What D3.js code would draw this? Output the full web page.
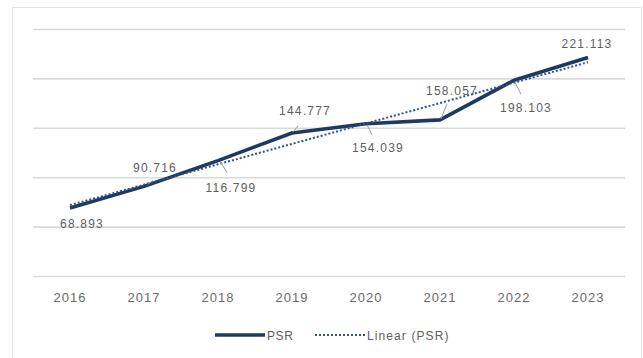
<!DOCTYPE html>
<html>
<head>
<meta charset="utf-8">
<script src="https://cdn.jsdelivr.net/npm/d3@7"></script>
<style>
  html, body { margin: 0; padding: 0; background: #fff; }
  svg { display: block; }
  text { font-family: "Liberation Sans", Arial, sans-serif; }
</style>
</head>
<body>
<svg id="chart" width="643" height="358"></svg>
<script>
// ---- data ----
const years = ["2016", "2017", "2018", "2019", "2020", "2021", "2022", "2023"];
const psr = [68.893, 90.716, 116.799, 144.777, 154.039, 158.057, 198.103, 221.113];
const labels = ["68.893", "90.716", "116.799", "144.777", "154.039", "158.057", "198.103", "221.113"];
const gridTicks = [0, 50, 100, 150, 200, 250];
const seriesNames = ["PSR", "Linear (PSR)"];

// label placement (offset from point: dx, baseline dy) and leader lines
const labelOffsets = [[12, 20], [11, -14], [13, 31], [13, -18], [12, 28], [12, -25], [12, 32], [-1, -10]];
const leaders = [null, [[4, -2], [9, -6]], [[3, 2], [9, 12]], [[1, -1], [6, -7]], [[1, 1], [6, 11]], [[1, -1], [7, -16]], [[1, 2], [7, 14]], null];

const svg = d3.select("#chart");
const pLeft = 33, pRight = 625, pTop = 29, pBottom = 276;

// outer border
svg.append("rect").attr("x", 12.5).attr("y", 7.5).attr("width", 629).attr("height", 352)
  .attr("fill", "#fff").attr("stroke", "#e4e4e4").attr("stroke-width", 1);

const x = d3.scaleBand().domain(years).range([pLeft, pRight]).padding(0);
const y = d3.scaleLinear().domain([0, 250]).range([pBottom, pTop]);
const cx = d => x(d) + x.bandwidth() / 2;

// gridlines
const grid = svg.append("g").attr("transform", `translate(${pLeft},0)`)
  .call(d3.axisLeft(y).tickValues(gridTicks).tickSize(-(pRight - pLeft)).tickFormat(""));
grid.select(".domain").remove();
grid.selectAll(".tick line").attr("stroke", "#d9d9d9").attr("stroke-width", 1.6);

// x axis labels
const xa = svg.append("g").attr("transform", `translate(0,${pBottom})`)
  .call(d3.axisBottom(x).tickSize(0).tickPadding(17));
xa.select(".domain").remove();
xa.selectAll("text").attr("font-size", 13).attr("fill", "#6a6a6a")
  .attr("letter-spacing", 1).attr("font-family", "Liberation Sans, Arial, sans-serif");

// linear trend (least squares)
const n = psr.length;
const xs = d3.range(1, n + 1);
const mx = d3.mean(xs), my = d3.mean(psr);
const slope = d3.sum(xs.map((xi, i) => (xi - mx) * (psr[i] - my))) / d3.sum(xs.map(xi => (xi - mx) ** 2));
const intercept = my - slope * mx;
const trend = years.map((yr, i) => ({ yr, v: intercept + slope * (i + 1) }));

const line = d3.line().x(d => cx(d.yr)).y(d => y(d.v));
const pts = years.map((yr, i) => ({ yr, v: psr[i] }));

svg.append("path").datum(pts).attr("d", line).attr("fill", "none")
  .attr("stroke", "#1f3a60").attr("stroke-width", 3.6).attr("stroke-linejoin", "round");

svg.append("path").datum(trend).attr("d", line).attr("fill", "none")
  .attr("stroke", "#2f5289").attr("stroke-width", 2).attr("stroke-dasharray", "2,2");

// leader lines
pts.forEach((p, i) => {
  const l = leaders[i];
  if (!l) return;
  svg.append("line")
    .attr("x1", cx(p.yr) + l[0][0]).attr("y1", y(p.v) + l[0][1])
    .attr("x2", cx(p.yr) + l[1][0]).attr("y2", y(p.v) + l[1][1])
    .attr("stroke", "#9a9a9a").attr("stroke-width", 1);
});

// data labels
svg.append("g").selectAll("text").data(pts).join("text")
  .attr("x", (d, i) => cx(d.yr) + labelOffsets[i][0])
  .attr("y", (d, i) => y(d.v) + labelOffsets[i][1])
  .attr("text-anchor", "middle").attr("font-size", 12).attr("letter-spacing", 1.2)
  .attr("fill", "#5e5e5e")
  .text((d, i) => labels[i]);

// legend
const lg = svg.append("g");
lg.append("line").attr("x1", 215).attr("x2", 265).attr("y1", 335).attr("y2", 335)
  .attr("stroke", "#1f3a60").attr("stroke-width", 3.6);
lg.append("text").attr("x", 267).attr("y", 339.5).attr("font-size", 12).attr("fill", "#5e5e5e")
  .attr("letter-spacing", 0.6).text(seriesNames[0]);
lg.append("line").attr("x1", 315).attr("x2", 365).attr("y1", 335).attr("y2", 335)
  .attr("stroke", "#2f5289").attr("stroke-width", 2).attr("stroke-dasharray", "2,2");
lg.append("text").attr("x", 367).attr("y", 339.5).attr("font-size", 12).attr("fill", "#5e5e5e")
  .attr("letter-spacing", 1.1).text(seriesNames[1]);
</script>
</body>
</html>
